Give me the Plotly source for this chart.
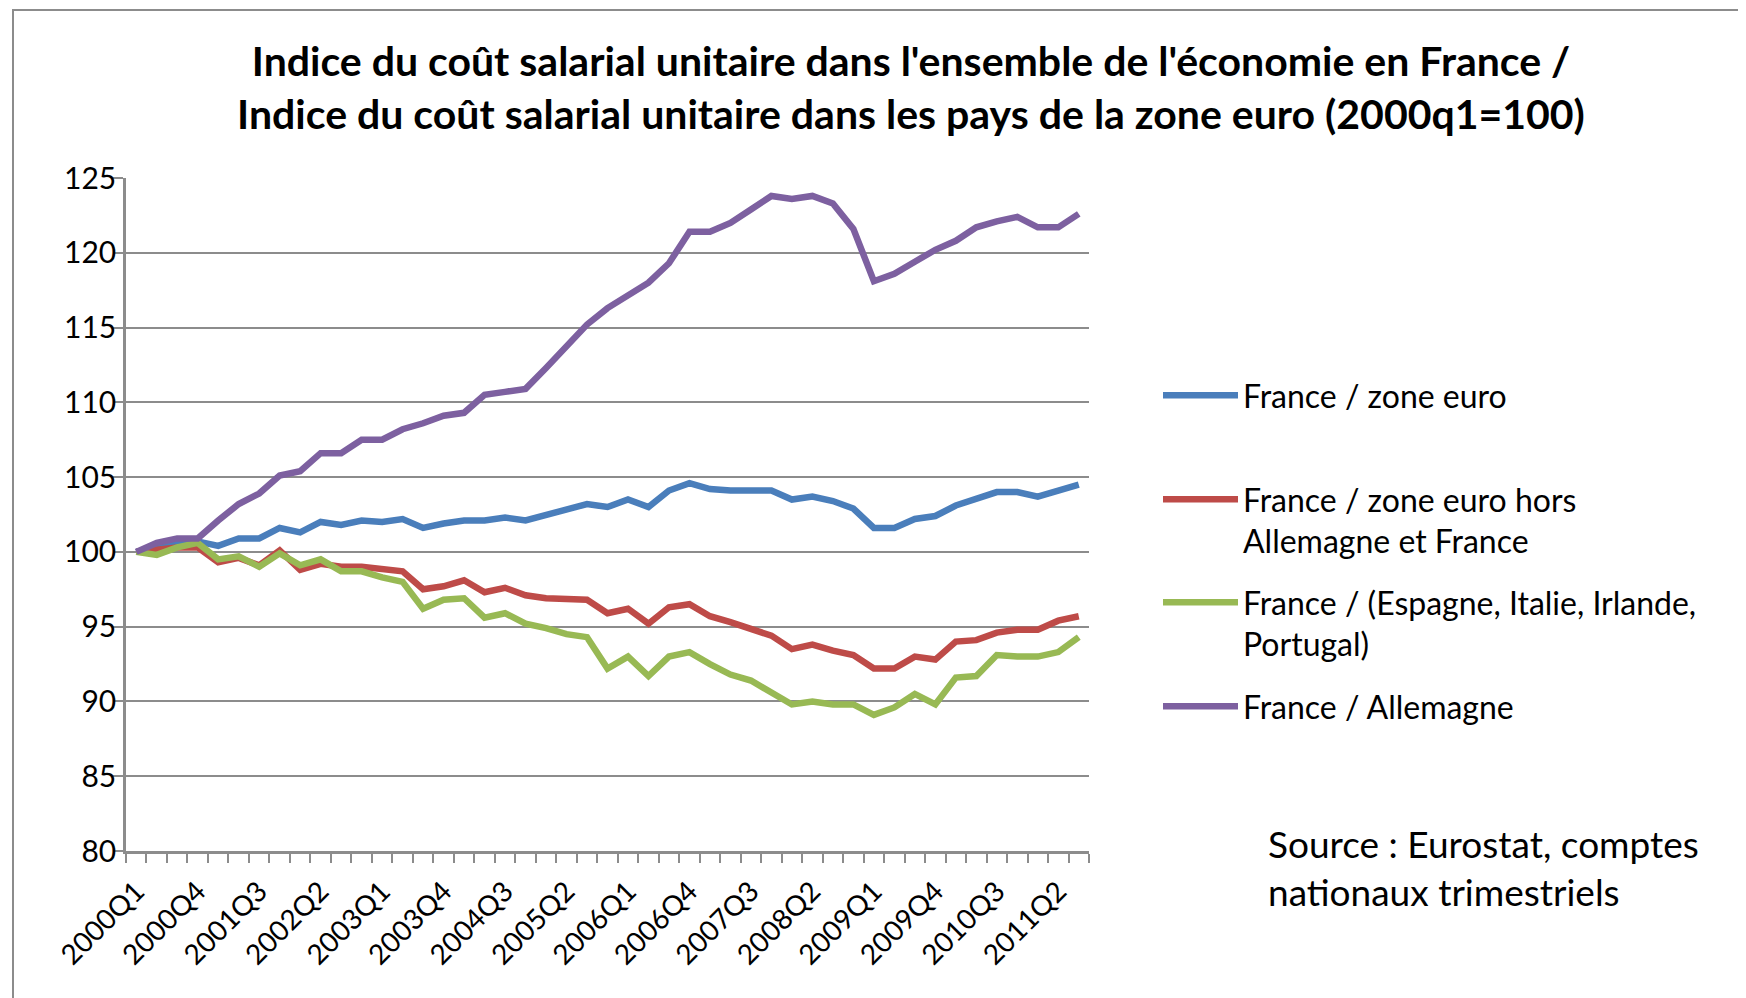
import plotly.graph_objects as go

quarters = ["2000Q1", "2000Q2", "2000Q3", "2000Q4", "2001Q1", "2001Q2", "2001Q3", "2001Q4",
            "2002Q1", "2002Q2", "2002Q3", "2002Q4", "2003Q1", "2003Q2", "2003Q3", "2003Q4",
            "2004Q1", "2004Q2", "2004Q3", "2004Q4", "2005Q1", "2005Q2", "2005Q3", "2005Q4",
            "2006Q1", "2006Q2", "2006Q3", "2006Q4", "2007Q1", "2007Q2", "2007Q3", "2007Q4",
            "2008Q1", "2008Q2", "2008Q3", "2008Q4", "2009Q1", "2009Q2", "2009Q3", "2009Q4",
            "2010Q1", "2010Q2", "2010Q3", "2010Q4", "2011Q1", "2011Q2", "2011Q3"]

france_zone_euro = [100.0, 100.3, 100.6, 100.7, 100.4, 100.9, 100.9, 101.6, 101.3, 102.0,
                    101.8, 102.1, 102.0, 102.2, 101.6, 101.9, 102.1, 102.1, 102.3, 102.1,
                    102.5, 102.9, 103.2, 103.0, 103.5, 103.0, 104.1, 104.6, 104.2, 104.1,
                    104.1, 104.1, 103.5, 103.7, 103.4, 102.9, 101.6, 101.6, 102.2, 102.4,
                    103.1, 103.5, 104.0, 104.0, 103.7, 104.1, 104.5]

france_hors_all_fr = [100.0, 100.2, 100.3, 100.3, 99.3, 99.6, 99.1, 100.1, 98.8, 99.2,
                      99.0, 99.0, 98.8, 98.7, 97.5, 97.7, 98.1, 97.3, 97.6, 97.1,
                      96.9, 96.9, 96.8, 95.9, 96.2, 95.2, 96.3, 96.5, 95.7, 95.3,
                      94.9, 94.4, 93.5, 93.8, 93.4, 93.1, 92.2, 92.2, 93.0, 92.8,
                      94.0, 94.1, 94.6, 94.8, 94.8, 95.4, 95.7]

france_eiip = [100.0, 99.8, 100.3, 100.6, 99.5, 99.7, 99.0, 99.9, 99.1, 99.5,
               98.7, 98.7, 98.3, 98.0, 96.2, 96.8, 96.9, 95.6, 95.9, 95.2,
               94.9, 94.5, 94.3, 92.2, 93.0, 91.7, 93.0, 93.3, 92.5, 91.8,
               91.4, 90.6, 89.8, 90.0, 89.8, 89.8, 89.1, 89.6, 90.5, 89.8,
               91.6, 91.7, 93.1, 93.0, 93.0, 93.3, 94.3]

france_allemagne = [100.0, 100.6, 100.9, 100.9, 102.1, 103.2, 103.9, 105.1, 105.4, 106.6,
                    106.6, 107.5, 107.5, 108.2, 108.6, 109.1, 109.3, 110.5, 110.7, 110.9,
                    112.3, 113.8, 115.2, 116.3, 117.1, 118.0, 119.3, 121.4, 121.4, 122.0,
                    122.9, 123.8, 123.6, 123.8, 123.3, 121.6, 118.1, 118.6, 119.4, 120.2,
                    120.8, 121.7, 122.1, 122.4, 121.7, 121.7, 122.6]

series_names = ["France / zone euro",
                "France / zone euro hors<br>Allemagne et France",
                "France / (Espagne, Italie, Irlande,<br>Portugal)",
                "France / Allemagne"]
series_values = [france_zone_euro, france_hors_all_fr, france_eiip, france_allemagne]
series_colors = ["#4A7EBB", "#BE4B48", "#98B954", "#7D60A0"]

FONT = "Lato, 'Open Sans', sans-serif"
GRID = "#8C8C8C"

# layout geometry (pixels); the page body adds an 8 px offset, compensated here
OFF = 8
W, H = 1746, 998
PLOT_X0, PLOT_X1, PLOT_Y0, PLOT_Y1 = 126, 1089, 178, 851   # target screen positions
L, T = PLOT_X0 - OFF, PLOT_Y0 - OFF
PW, PH = PLOT_X1 - PLOT_X0, PLOT_Y1 - PLOT_Y0
R, B = W - L - PW, H - T - PH


def px_x(x):
    return (x - OFF - L) / PW


def px_y(y):
    return (T + PH - (y - OFF)) / PH


xidx = list(range(len(quarters)))

fig = go.Figure()
legend_names = ["legend", "legend2", "legend3", "legend4"]
for name, vals, col, lg in zip(series_names, series_values, series_colors, legend_names):
    fig.add_trace(go.Scatter(
        x=xidx, y=vals, name=name, mode="lines",
        line=dict(color=col, width=6.5),
        legend=lg,
    ))

legend_line1_y = [396, 500, 603, 707]
legend_common = dict(
    xanchor="left", yanchor="top", valign="top",
    font=dict(family=FONT, size=32, color="#000000"),
    bgcolor="rgba(0,0,0,0)", borderwidth=0, itemwidth=75,
)
legends = {}
for lg, yc in zip(legend_names, legend_line1_y):
    legends[lg] = dict(x=px_x(1158), y=px_y(yc - 28), **legend_common)

fig.update_layout(
    width=W, height=H,
    margin=dict(l=L, r=R, t=T, b=B, autoexpand=False),
    paper_bgcolor="white", plot_bgcolor="white",
    showlegend=True,
    title=dict(
        text="<b>Indice du coût salarial unitaire dans l'ensemble de l'économie en France /</b><br>"
             "<b>Indice du coût salarial unitaire dans les pays de la zone euro (2000q1=100)</b>",
        x=(911 - OFF) / W, xanchor="center", xref="container",
        y=1 - 68 / H, yanchor="middle", yref="container",
        font=dict(family=FONT, size=41, color="#000000"),
    ),
    xaxis=dict(
        type="linear", range=[-0.5, len(quarters) - 0.5],
        tickmode="array", tickvals=xidx[::3], ticktext=quarters[::3],
        tickangle=-45, ticks="", showgrid=False, zeroline=False,
        showline=True, linecolor=GRID, linewidth=2.5,
        tickfont=dict(family=FONT, size=28, color="#000000"),
        ticklabelstandoff=10,
        minor=dict(tickmode="array",
                   tickvals=[i - 0.5 for i in range(len(quarters) + 1)],
                   ticks="outside", ticklen=9, tickwidth=2, tickcolor=GRID,
                   showgrid=False),
    ),
    yaxis=dict(
        range=[80, 125], dtick=5, tick0=80,
        showgrid=True, gridcolor=GRID, gridwidth=2,
        zeroline=False, showline=True, linecolor=GRID, linewidth=2.5,
        ticks="outside", ticklen=10, tickwidth=2, tickcolor=GRID,
        tickfont=dict(family=FONT, size=30, color="#000000"),
        ticklabelstandoff=-9,
    ),
    shapes=[dict(type="rect", xref="paper", yref="paper",
                 x0=px_x(13), x1=px_x(W + 30), y0=px_y(H + 30), y1=px_y(10),
                 line=dict(color=GRID, width=2), fillcolor="rgba(0,0,0,0)",
                 layer="below")],
    annotations=[dict(
        text="Source : Eurostat, comptes<br>nationaux trimestriels",
        xref="paper", yref="paper", x=px_x(1266), y=px_y(867),
        xanchor="left", yanchor="middle", align="left", showarrow=False,
        font=dict(family=FONT, size=37, color="#000000"),
    )],
    **legends,
)

fig.write_html("out.html")
